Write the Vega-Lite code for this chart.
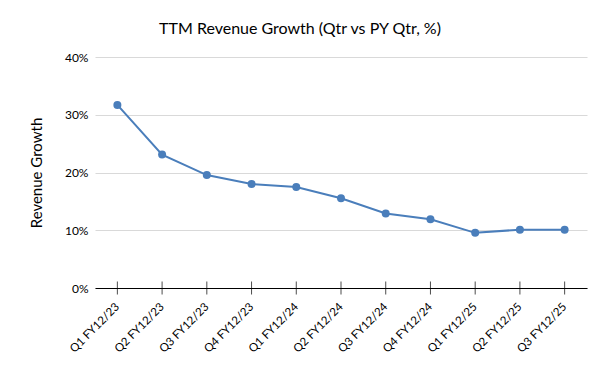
{
  "$schema": "https://vega.github.io/schema/vega-lite/v6.json",
  "autosize": "none",
  "width": 492,
  "height": 231,
  "padding": {"left": 95, "top": 57, "right": 13, "bottom": 83},
  "background": "white",
  "title": {
    "text": "TTM Revenue Growth (Qtr vs PY Qtr, %)",
    "font": "Lato",
    "fontSize": 16,
    "fontWeight": "normal",
    "color": "#000000",
    "anchor": "middle",
    "frame": "group",
    "dx": -41,
    "offset": 14
  },
  "config": {
    "view": {"stroke": null},
    "axis": {"labelFont": "Lato", "titleFont": "Lato", "labelColor": "#000000", "titleColor": "#000000"}
  },
  "data": {
    "values": [
      {"quarter": "Q1 FY12/23", "growth": 0.317},
      {"quarter": "Q2 FY12/23", "growth": 0.231},
      {"quarter": "Q3 FY12/23", "growth": 0.1955},
      {"quarter": "Q4 FY12/23", "growth": 0.180},
      {"quarter": "Q1 FY12/24", "growth": 0.175},
      {"quarter": "Q2 FY12/24", "growth": 0.1555},
      {"quarter": "Q3 FY12/24", "growth": 0.129},
      {"quarter": "Q4 FY12/24", "growth": 0.119},
      {"quarter": "Q1 FY12/25", "growth": 0.0955},
      {"quarter": "Q2 FY12/25", "growth": 0.101},
      {"quarter": "Q3 FY12/25", "growth": 0.101}
    ]
  },
  "encoding": {
    "x": {
      "field": "quarter",
      "type": "ordinal",
      "sort": null,
      "scale": {"type": "point", "padding": 0.5},
      "axis": {
        "title": null,
        "labelAngle": -45,
        "labelAlign": "right",
        "labelBaseline": "middle",
        "labelFontSize": 11.5,
        "labelPadding": 17,
        "ticks": false,
        "domain": true,
        "domainColor": "#000000",
        "domainWidth": 1,
        "grid": false
      }
    }
  },
  "layer": [
    {
      "mark": {"type": "line", "color": "#4a7ebb", "strokeWidth": 2},
      "encoding": {
        "y": {
          "field": "growth",
          "type": "quantitative",
          "scale": {"domain": [0, 0.4]},
          "axis": {
            "title": "Revenue Growth",
            "titleFontSize": 15,
            "titleFontWeight": "normal",
            "titlePadding": 20,
            "format": ".0%",
            "values": [0, 0.1, 0.2, 0.3, 0.4],
            "labelFontSize": 12,
            "labelPadding": 7,
            "ticks": false,
            "domain": false,
            "grid": true,
            "gridColor": "#d9d9d9",
            "gridWidth": 1
          }
        }
      }
    },
    {
      "mark": {"type": "tick", "orient": "vertical", "color": "#000000", "size": 13, "thickness": 1},
      "encoding": {"y": {"datum": 0}}
    },
    {
      "mark": {"type": "circle", "color": "#4a7ebb", "opacity": 1, "size": 64},
      "encoding": {"y": {"field": "growth", "type": "quantitative"}}
    }
  ]
}
